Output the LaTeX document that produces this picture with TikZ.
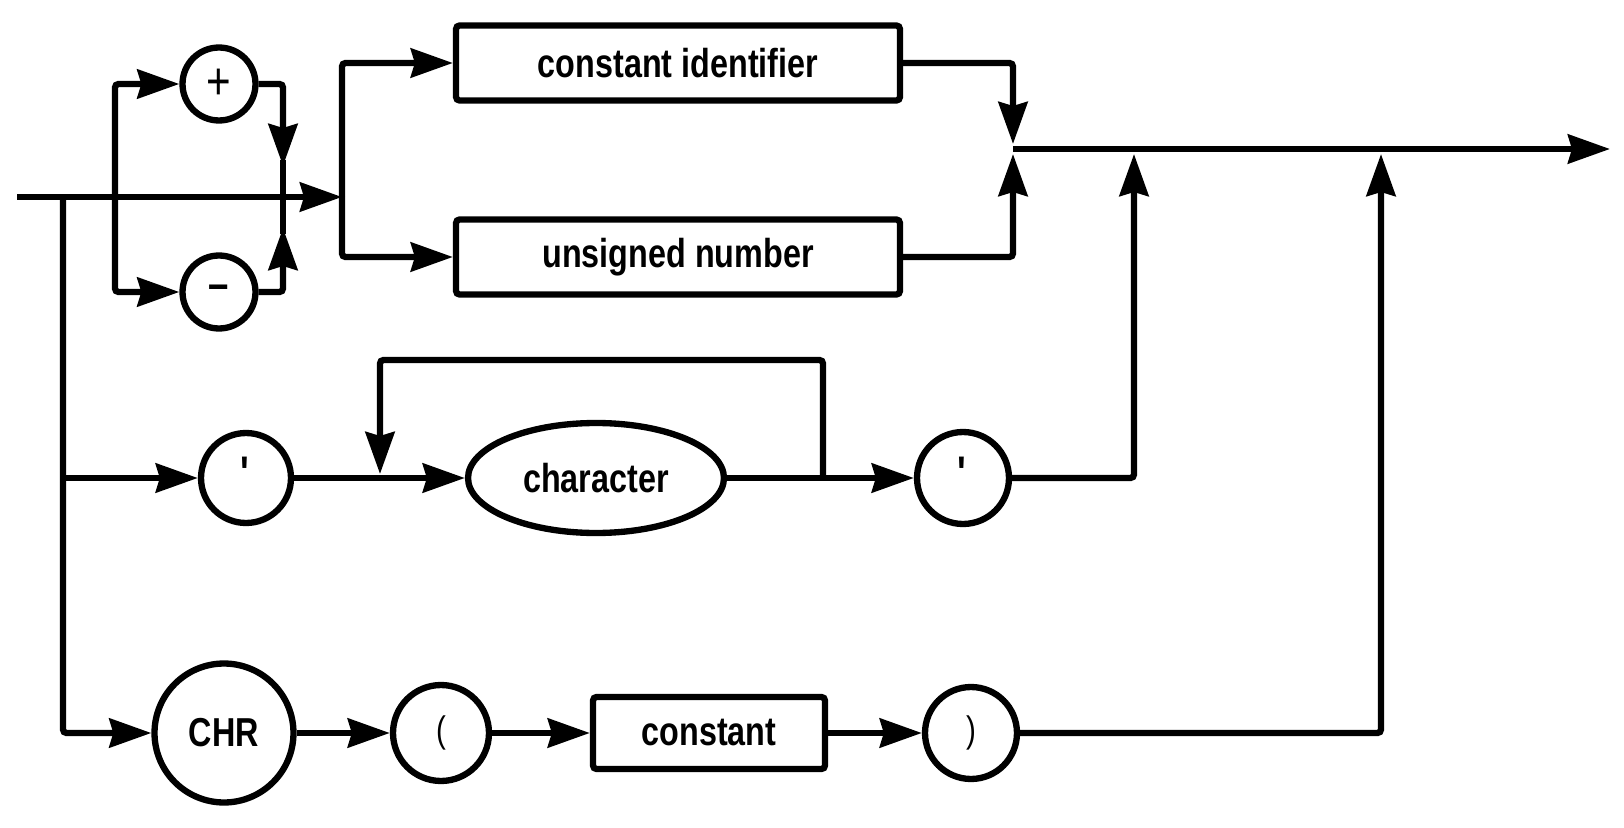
\documentclass[tikz,border=0pt]{standalone}
\usepackage{fontspec}
\newfontfamily\rrfont{Liberation Sans}[FakeStretch=0.8]
\usetikzlibrary{positioning, arrows.meta, calc, shapes.geometric}

\begin{document}
\begin{tikzpicture}[
    x=0.02cm, y=-0.02cm,
    % railroad styles
    rail/.style={
        line width=3.6pt,
        rounded corners=2pt,
        black
    },
    arr/.style={
        rail,
        -{Stealth[length=0.84cm, width=0.58cm, inset=0.08cm]}
    },
    symbol/.style={
        circle,
        draw,
        line width=3.6pt,
        inner sep=0pt,
        font=\rrfont\fontsize{23}{26}\selectfont
    },
    wordbox/.style={
        rectangle,
        rounded corners=2pt,
        draw,
        line width=3.6pt,
        inner sep=0pt,
        font=\rrfont\bfseries\fontsize{23}{26}\selectfont
    },
    wordoval/.style={
        ellipse,
        draw,
        line width=3.6pt,
        inner sep=0pt,
        font=\rrfont\bfseries\fontsize{23}{26}\selectfont
    }
]
\useasboundingbox (0,0) rectangle (1624,828);

% === Nodes ===
\node[symbol, minimum size=1.46cm, font=\rrfont\fontsize{30}{32}\selectfont] (plus) at (219,84) {+};
\node[symbol, minimum size=1.46cm, font=\rrfont\bfseries\fontsize{26}{28}\selectfont] (minus) at (219,292) {–};
\node[wordbox, minimum width=8.88cm, minimum height=1.5cm] (cid) at (678,63) {constant identifier};
\node[wordbox, minimum width=8.88cm, minimum height=1.5cm] (unum) at (678,257) {unsigned number};

\node[symbol, minimum size=1.8cm, font=\rrfont\bfseries\fontsize{26}{28}\selectfont] (qopen) at (246,478) {\textquotesingle\vphantom{Ag}};
\node[wordoval, minimum width=5.12cm, minimum height=2.2cm] (char) at (596,478) {character};
\node[symbol, minimum size=1.84cm, font=\rrfont\bfseries\fontsize{26}{28}\selectfont] (qclose) at (963,478) {\textquotesingle\vphantom{Ag}};

\node[symbol, minimum size=2.78cm, font=\rrfont\bfseries\fontsize{23}{26}\selectfont] (chr) at (224,733) {CHR};
\node[symbol, minimum size=1.92cm, font=\rrfont\fontsize{21}{24}\selectfont] (lpar) at (441,733) {(};
\node[wordbox, minimum width=4.64cm, minimum height=1.44cm] (const) at (709,733) {constant};
\node[symbol, minimum size=1.84cm, font=\rrfont\fontsize{21}{24}\selectfont] (rpar) at (971,733) {)};

% === Junctions ===
\coordinate (start) at (17,197);
\coordinate (fork) at (63,197);
\coordinate (sgnsplit) at (115,197);
\coordinate (sgnjoin) at (283,197);
\coordinate (numsplit) at (342,197);
\coordinate (numjoin) at (1013,149);
\coordinate (finish) at (1610,149);
\coordinate (rowsplit) at (63,478);
\coordinate (loopin) at (380,478);
\coordinate (loopout) at (823,478);

% === Sign and number ===
\draw[arr] (start) -- (numsplit);
\draw[arr] (sgnsplit) |- (plus);
\draw[arr] (sgnsplit) |- (minus);
\draw[arr] (plus) -| (283,166);
\draw[rail] (283,160) -- (sgnjoin);
\draw[arr] (minus) -| (283,228);
\draw[rail] (283,234) -- (sgnjoin);
\draw[arr] (numsplit) |- (cid);
\draw[arr] (numsplit) |- (unum);
\draw[arr] (cid) -| (1013,144);
\draw[arr] (unum) -| (1013,154);
\draw[arr] (numjoin) -- (finish);

% === Quoted characters ===
\draw[arr] (rowsplit) -- (qopen);
\draw[rail] (qopen) -- (loopin);
\draw[arr] (loopin) -- (char);
\draw[rail] (char) -- (loopout);
\draw[arr] (loopout) -- (qclose);
\draw[arr] (loopout) -- ++(0,-118) -| (380,474);
\draw[arr] (qclose) -| (1134,154);

% === CHR(constant) ===
\draw[arr] (fork) |- (chr);
\draw[arr] (chr) -- (lpar);
\draw[arr] (lpar) -- (const);
\draw[arr] (const) -- (rpar);
\draw[arr] (rpar) -| (1381,154);

\end{tikzpicture}
\end{document}
